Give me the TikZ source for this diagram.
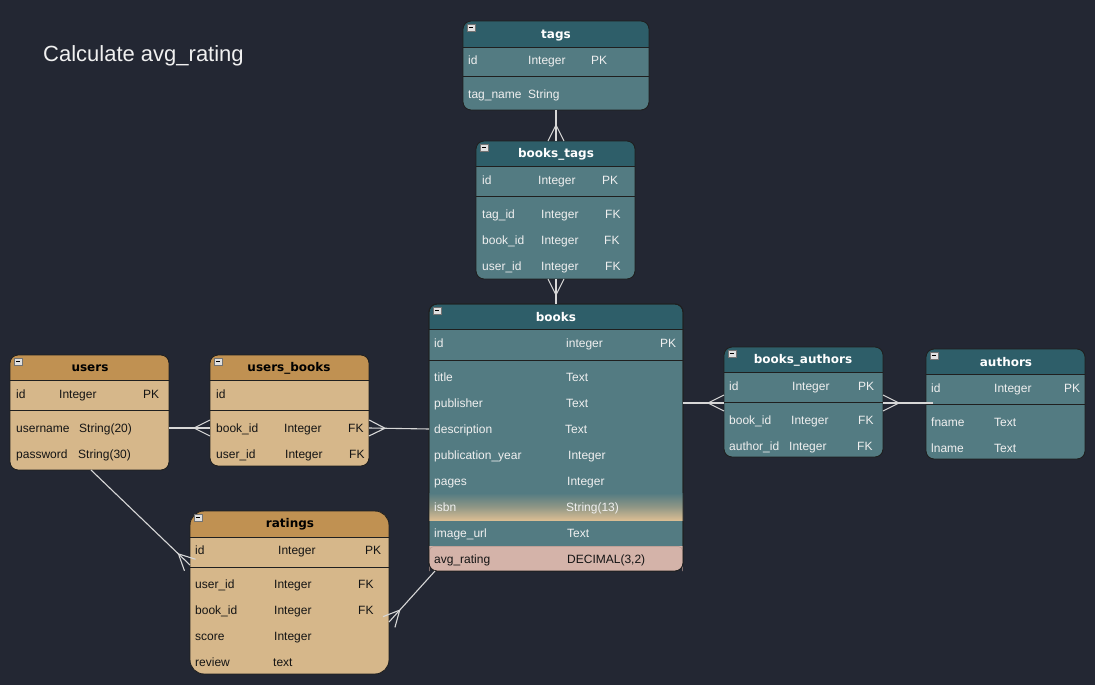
\documentclass[tikz,border=0pt]{standalone}
\usepackage{fontspec}
\setmainfont{Liberation Sans}
\newfontfamily\hdfont{DejaVu Sans}
\usetikzlibrary{calc}
\definecolor{bg}{RGB}{35,39,51}
\definecolor{tealhead}{RGB}{46,94,105}
\definecolor{tealbody}{RGB}{83,123,130}
\definecolor{tanhead}{RGB}{192,145,82}
\definecolor{tanbody}{RGB}{214,183,138}
\definecolor{pinkrow}{RGB}{212,179,169}
\definecolor{lighttxt}{RGB}{240,240,240}
\definecolor{conncol}{RGB}{215,215,215}
\tikzset{
  ftxt/.style={anchor=west, inner sep=0pt, text height=9pt, text depth=3pt, yshift=-1.5pt, font=\fontsize{12}{14}\selectfont},
  lt/.style={text=lighttxt},
  dk/.style={text=black!92},
  htxt/.style={inner sep=0pt, yshift=-1.5pt, font=\hdfont\bfseries\fontsize{12}{14}\selectfont},
  edgeline/.style={draw=black!88, line width=0.9pt},
  conn/.style={draw=conncol, line width=1.1pt},
  iconbox/.style={draw=black!55, fill=white!88!black, line width=0.5pt},
  icondash/.style={draw=black, line width=1pt},
}
% #1 x1 #2 y1 #3 x2 #4 y2 #5 header bottom #6 divider #7 head colour #8 body colour #9 radius
\newcommand\ertable[9]{%
  \begin{scope}
    \clip[rounded corners=#9] (#1,#2) rectangle (#3,#4);
    \fill[#8] (#1,#2) rectangle (#3,#4);
    \fill[#7] (#1,#2) rectangle (#3,#5);
  \end{scope}
  \draw[edgeline] (#1,#5) -- (#3,#5);
  \draw[edgeline] (#1,#6) -- (#3,#6);
  \draw[edgeline, rounded corners=#9] (#1,#2) rectangle (#3,#4);
  \draw[iconbox] (#1+4,#2+3) rectangle ++(8,7);
  \draw[icondash] (#1+6,#2+6.5) -- ++(4,0);
}
\newcommand\crowline[2]{% #1 plain end, #2 crow's-foot end
  \draw[conn] (#1) -- (#2);
  \draw[conn] ($(#2)!16pt!(#1)$) -- ($(#2)!8pt!90:(#1)$);
  \draw[conn] ($(#2)!16pt!(#1)$) -- ($(#2)!8pt!-90:(#1)$);
}
\begin{document}
\begin{tikzpicture}[x=1pt,y=-1pt]
\useasboundingbox (0,0) rectangle (1095,685);
\fill[bg] (0,0) rectangle (1095,685);

\node[anchor=west, inner sep=0pt, text=lighttxt, font=\fontsize{22}{24}\selectfont] (title) at (43,55.5) {Calculate avg\_rating};

% tags
\ertable{463}{21}{649}{110}{47}{76}{tealhead}{tealbody}{8}
\node[htxt, text=white] (tags-h) at (556,34) {tags};
\foreach \px/\py/\t [count=\i] in {468/60/id, 528/60/Integer, 591/60/PK, 468/94/tag\_name, 528/94/String}
  \node[ftxt,lt] (tags-\i) at (\px,\py) {\t};

% books_tags
\ertable{476}{141}{635}{279}{166}{196}{tealhead}{tealbody}{8}
\node[htxt, text=white] (bt-h) at (556,153) {books\_tags};
\foreach \px/\py/\t [count=\i] in {482/180/id, 538/180/Integer, 602/180/PK, 482/214/tag\_id, 541/214/Integer, 605/214/FK, 482/240/book\_id, 541/240/Integer, 604/240/FK, 482/266/user\_id, 541/266/Integer, 605/266/FK}
  \node[ftxt,lt] (bt-\i) at (\px,\py) {\t};

% books
\ertable{429}{304}{683}{571}{329}{360}{tealhead}{tealbody}{8}
\begin{scope}
  \clip[rounded corners=8] (429,304) rectangle (683,571);
  \shade[top color=tealbody, bottom color=tanbody!92!white, middle color=tealbody!55!tanbody] (429,493) rectangle (683,520);
  \fill[pinkrow] (429,546) rectangle (683,571);
\end{scope}
\draw[draw=pinkrow!85!black, line width=0.5pt, rounded corners=4] (429.5,571) -- (429.5,546.5) -- (682.5,546.5) -- (682.5,571);
\draw[edgeline, rounded corners=8] (429,304) rectangle (683,571);
\node[htxt, text=white] (books-h) at (556,316) {books};
\foreach \px/\py/\t [count=\i] in {434/343/id, 566/343/integer, 660/343/PK, 434/377/title, 566/377/Text, 434/403/publisher, 566/403/Text, 434/429/description, 565/429/Text, 434/455/publication\_year, 568/455/Integer, 434/481/pages, 567/481/Integer, 434/507/isbn, 566/507/String(13), 434/533/image\_url, 567/533/Text}
  \node[ftxt,lt] (books-\i) at (\px,\py) {\t};
\node[ftxt,dk] (books-avg) at (434,559) {avg\_rating};
\node[ftxt,dk] (books-avgt) at (567,559) {DECIMAL(3,2)};

% users
\ertable{10}{355}{169}{470}{380}{410}{tanhead}{tanbody}{8}
\node[htxt, text=black] (users-h) at (90,367) {users};
\foreach \px/\py/\t [count=\i] in {16/394/id, 59/394/Integer, 143/394/PK, 16/428/username, 79/428/String(20), 16/454/password, 78/454/String(30)}
  \node[ftxt,dk] (users-\i) at (\px,\py) {\t};

% users_books
\ertable{210}{355}{369}{466}{380}{410}{tanhead}{tanbody}{8}
\node[htxt, text=black] (ub-h) at (289,367) {users\_books};
\foreach \px/\py/\t [count=\i] in {216/394/id, 216/428/book\_id, 284/428/Integer, 348/428/FK, 216/454/user\_id, 285/454/Integer, 349/454/FK}
  \node[ftxt,dk] (ub-\i) at (\px,\py) {\t};

% ratings
\ertable{190}{511}{389}{674}{537}{567}{tanhead}{tanbody}{14}
\node[htxt, text=black] (rat-h) at (290,523) {ratings};
\foreach \px/\py/\t [count=\i] in {195/550/id, 278/550/Integer, 365/550/PK, 195/584/user\_id, 274/584/Integer, 358/584/FK, 195/610/book\_id, 274/610/Integer, 358/610/FK, 195/636/score, 274/636/Integer, 195/662/review, 273/662/text}
  \node[ftxt,dk] (rat-\i) at (\px,\py) {\t};

% books_authors
\ertable{724}{347}{883}{457}{372}{402}{tealhead}{tealbody}{8}
\node[htxt, text=white] (ba-h) at (803,359) {books\_authors};
\foreach \px/\py/\t [count=\i] in {729/386/id, 792/386/Integer, 858/386/PK, 729/420/book\_id, 791/420/Integer, 858/420/FK, 729/446/author\_id, 789/446/Integer, 857/446/FK}
  \node[ftxt,lt] (ba-\i) at (\px,\py) {\t};

% authors
\ertable{926}{349}{1085}{459}{374}{404}{tealhead}{tealbody}{8}
\node[htxt, text=white] (au-h) at (1006,361) {authors};
\foreach \px/\py/\t [count=\i] in {931/388/id, 994/388/Integer, 1064/388/PK, 931/422/fname, 994/422/Text, 931/448/lname, 994/448/Text}
  \node[ftxt,lt] (au-\i) at (\px,\py) {\t};

% connector end points
\coordinate (tagsS) at (556,110);
\coordinate (btN) at (556,141);
\coordinate (btS) at (556,279);
\coordinate (booksN) at (556,304);
\coordinate (usersE) at (169,428);
\coordinate (ubW) at (210,428);
\coordinate (ubE) at (369,428);
\coordinate (booksW) at (429,429);
\coordinate (booksE) at (683,403);
\coordinate (baW) at (724,403);
\coordinate (baE) at (883,403);
\coordinate (auIn) at (933,403);
\coordinate (usersS) at (91,470);
\coordinate (ratW) at (190,565);
\coordinate (booksSW) at (435,571);
\coordinate (ratE) at (389,622);

\crowline{tagsS}{btN}
\crowline{booksN}{btS}
\crowline{usersE}{ubW}
\crowline{booksW}{ubE}
\crowline{booksE}{baW}
\crowline{auIn}{baE}
\crowline{usersS}{ratW}
\crowline{booksSW}{ratE}
\end{tikzpicture}
\end{document}
